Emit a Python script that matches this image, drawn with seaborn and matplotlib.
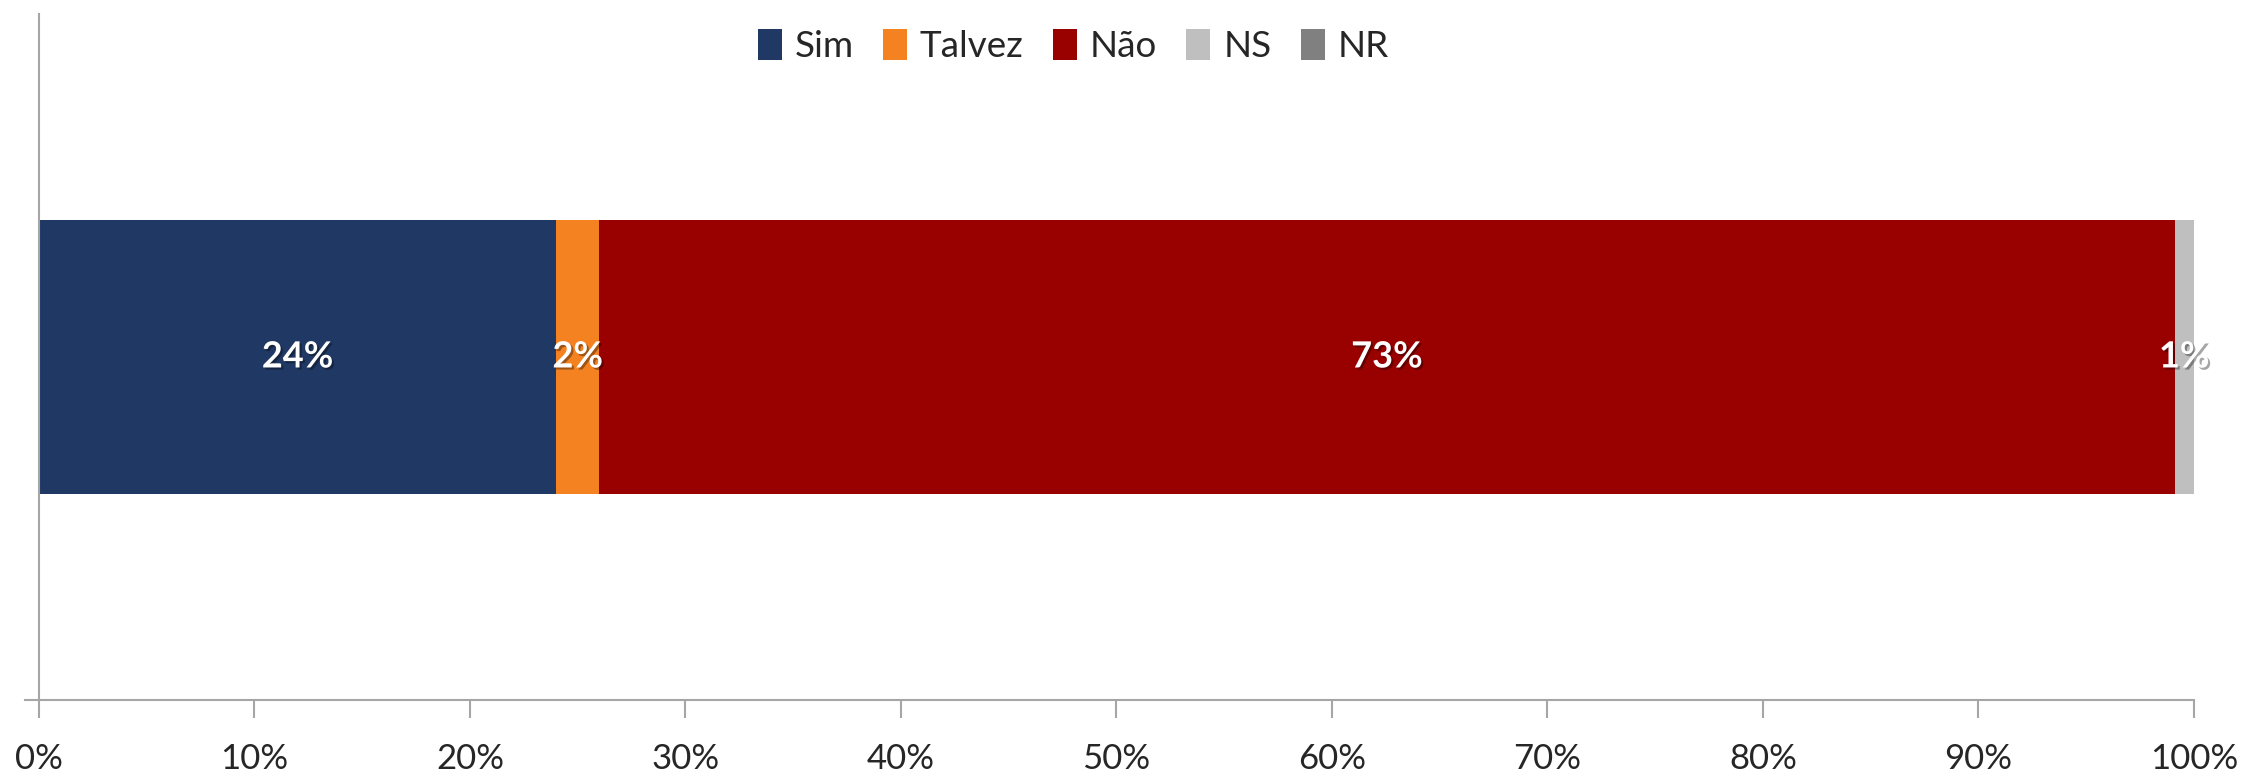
import numpy as np
import pandas as pd
import matplotlib
matplotlib.use("Agg")
import matplotlib.pyplot as plt
import matplotlib.patheffects as pe
from matplotlib.patches import Patch
import seaborn as sns

# respostas e percentagens
categorias = ["Sim", "Talvez", "Não", "NS", "NR"]
valores = [24.0, 2.0, 73.1, 0.9, 0.0]
cores = ["#1F3864", "#F58220", "#990000", "#BFBFBF", "#808080"]
ticks = [0, 10, 20, 30, 40, 50, 60, 70, 80, 90, 100]

sns.set_style("white")
plt.rcParams["font.family"] = ["Lato", "DejaVu Sans"]

df = pd.DataFrame({"cat": categorias, "val": valores, "cor": cores})
df["fim"] = df["val"].cumsum()
df["meio"] = df["fim"] - df["val"] / 2
df["grupo"] = "q"

fig, ax = plt.subplots(figsize=(22.5, 7.72), dpi=100)
fig.subplots_adjust(left=0.0111, right=0.9751, bottom=0.0933, top=0.9819)

# barras empilhadas: desenhar do fim para o inicio, cada uma por cima
for i in reversed(range(len(df))):
    sns.barplot(x=[df["fim"][i]], y=[df["grupo"][i]], color=df["cor"][i],
                orient="h", width=0.4, saturation=1, linewidth=0, ax=ax)

sombra = [pe.SimplePatchShadow(offset=(1.5, -1.5), shadow_rgbFace="black", alpha=0.35),
          pe.Normal()]
for i in range(len(df)):
    if df["val"][i] <= 0:
        continue
    ax.text(df["meio"][i], 0, f"{df['val'][i]:.0f}%", ha="center", va="center",
            color="white", fontsize=26, fontweight="bold", path_effects=sombra)

ax.set_xlim(-0.65, 100)
ax.set_ylim(0.5, -0.5)
ax.set_xticks(ticks)
ax.set_xticklabels([f"{t}%" for t in ticks], fontsize=25)
ax.set_yticks([])
ax.set_xlabel("")
ax.set_ylabel("")

for s in ["top", "right"]:
    ax.spines[s].set_visible(False)
ax.spines["left"].set_position(("data", 0))
for s in ["left", "bottom"]:
    ax.spines[s].set_color("#A6A6A6")
    ax.spines[s].set_linewidth(1.5)
ax.tick_params(axis="x", length=13, width=1.5, color="#A6A6A6", pad=18, bottom=True)

handles = [Patch(facecolor=c, edgecolor="none", label=l) for c, l in zip(cores, categorias)]
fig.legend(handles=handles, loc="center", bbox_to_anchor=(0.477, 0.94), ncol=5,
           frameon=False, fontsize=26.5, handlelength=0.65, handleheight=0.9,
           handletextpad=0.35, columnspacing=0.8)

fig.savefig("out.png", dpi=100)
